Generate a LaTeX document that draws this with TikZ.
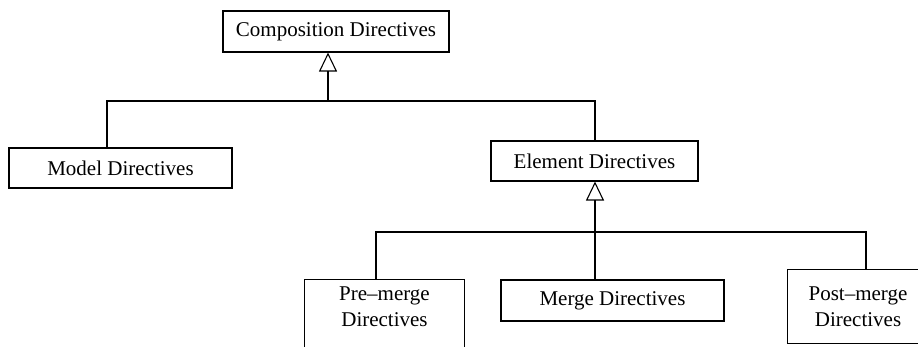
\documentclass[tikz,border=0pt]{standalone}
\usepackage{fontspec}
\setmainfont{Liberation Serif}
\usetikzlibrary{arrows.meta}
\begin{document}
\begin{tikzpicture}[x=1pt,y=-1pt,
  line width=1.1pt,
  box/.style={draw, inner sep=0pt, align=center,
    font=\fontsize{21}{26}\selectfont},
  openbox/.style={box, draw=none},
  link/.style={line width=1.1pt},
  inherit/.style={link, -{Triangle[open, length=19pt, width=18pt, line width=1.1pt]}}]
\useasboundingbox (0,0) rectangle (918,346);

% class boxes
\node[box, minimum width=226pt, minimum height=41pt] (comp) at (336,31.5) {Composition Directives};
\node[box, minimum width=223pt, minimum height=40pt] (model) at (120.5,168) {Model Directives};
\node[box, minimum width=207pt, minimum height=40pt] (elem) at (594.5,161) {Element Directives};
\node[box, minimum width=223pt, minimum height=41pt] (merge) at (612.5,300.5) {Merge Directives};
\node[openbox, minimum width=159pt, minimum height=54pt] (pre) at (384.5,307) {Pre--merge\\Directives};
\node[openbox, minimum width=140pt, minimum height=73pt] (post) at (858,306.5) {Post--merge\\Directives};

% boxes running past the edge of the page
\draw[link] ([yshift=-60pt]pre.south west) -- (pre.north west) -- (pre.north east) -- ([yshift=-60pt]pre.south east);
\draw[link] ([xshift=10pt]post.north east) -- (post.north west) -- (post.south west) -- ([xshift=10pt]post.south east);

% junction points
\coordinate (c1) at (328,101);
\coordinate (m1) at (107,101);
\coordinate (e1) at (595,101);
\coordinate (e2) at (595,232);
\coordinate (p1) at (376,232);
\coordinate (q1) at (866,232);

% first level of the hierarchy
\draw[link] (model.north -| m1) -- (m1) -- (e1) -- (elem.north -| e1);
\draw[inherit] (c1) -- (comp.south -| c1);

% second level of the hierarchy
\draw[link] (pre.north -| p1) -- (p1) -- (q1) -- (post.north -| q1);
\draw[inherit] (merge.north -| e2) -- (elem.south -| e2);
\end{tikzpicture}
\end{document}
